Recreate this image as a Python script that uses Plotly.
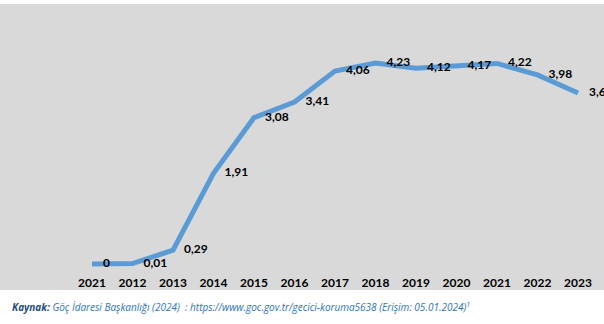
import plotly.graph_objects as go

years = ["2021", "2012", "2013", "2014", "2015", "2016", "2017", "2018", "2019", "2020", "2021", "2022", "2023"]
values = [0, 0.01, 0.29, 1.91, 3.08, 3.41, 4.06, 4.23, 4.12, 4.17, 4.22, 3.98, 3.6]

labels = [str(v).replace(".", ",") for v in values]
xpos = list(range(len(years)))

W, H = 604, 324
t, b = 10, 56
plot_h = H - t - b

def py(p):
    return (H - b - p) / plot_h

fig = go.Figure()
fig.add_trace(go.Scatter(
    x=xpos, y=values, mode="lines+markers+text",
    line=dict(color="#5b9bd5", width=5),
    marker=dict(size=16, opacity=0, color="#5b9bd5"),
    text=labels, textposition="middle right",
    textfont=dict(family="Lato", size=12, color="#000000", weight="bold"),
    cliponaxis=False, hoverinfo="skip", showlegend=False,
))

fig.update_layout(
    width=W, height=H,
    margin=dict(l=0, r=0, t=t, b=b),
    paper_bgcolor="#ffffff",
    plot_bgcolor="rgba(0,0,0,0)",
    xaxis=dict(range=[-2.272, 12.642], tickvals=xpos, ticktext=years,
               showgrid=False, zeroline=False, showline=False, ticks="",
               ticklabelstandoff=6,
               tickfont=dict(family="Lato", size=12, color="#000000", weight="bold"),
               fixedrange=True),
    yaxis=dict(range=[-0.084, 5.345], visible=False, fixedrange=True),
    shapes=[dict(type="rect", xref="paper", yref="paper",
                 x0=0, x1=1, y0=py(290), y1=py(4),
                 fillcolor="#d9d9d9", line=dict(width=0), layer="below")],
    annotations=[dict(
        xref="paper", yref="paper", x=10 / W, y=py(307),
        xanchor="left", yanchor="middle", showarrow=False,
        text="<b><i>Kaynak:</i></b><span style='color:#2e75b6'><i> Göç İdaresi Başkanlığı (2024)  : https://www.goc.gov.tr/gecici-koruma5638 (Erişim: 05.01.2024)<sup>1</sup></i></span>",
        font=dict(family="Open Sans", size=10, color="#1f4e79"),
    )],
)

fig.write_html("out.html")
